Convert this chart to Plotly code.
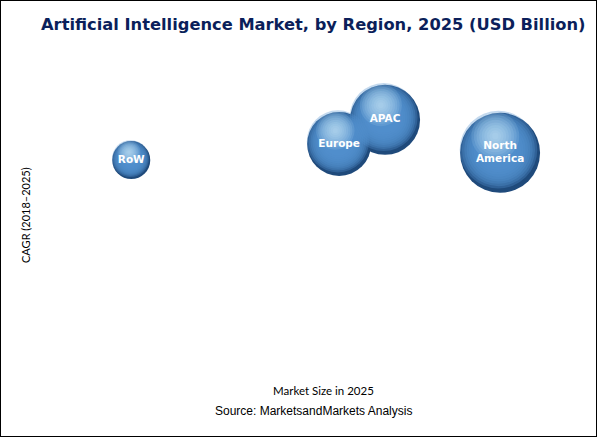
import plotly.graph_objects as go

regions = ["RoW", "Europe", "APAC", "North<br>America"]
market_size = [16.9, 55.4, 63.9, 85.2]      # x position (relative market size)
cagr = [63.6, 68.5, 75.8, 65.8]             # y position (relative CAGR)
bubble = [38, 64, 70, 80]                   # bubble diameter (relative size)

W, H = 597, 437
x0, x1, y0, y1 = 40, 580, 40, 370  # plot area in px
xr, yr = [0, 100], [0, 100]
px_per_x = (x1 - x0) / (xr[1] - xr[0])
px_per_y = (y1 - y0) / (yr[1] - yr[0])


def offset(fx, fy):
    xs = [m + fx * (b / 2) / px_per_x for m, b in zip(market_size, bubble)]
    ys = [c + fy * (b / 2) / px_per_y for c, b in zip(cagr, bubble)]
    return xs, ys


def disc(xs, ys, scale, color, op):
    return go.Scatter(
        x=xs, y=ys, mode="markers",
        marker=dict(size=[b * scale for b in bubble], sizemode="diameter",
                    opacity=op, color=color, line=dict(width=0)),
        hoverinfo="skip", showlegend=False)


def soft(fig, fx, fy, s_max, s_min, n, color, op):
    xs, ys = offset(fx, fy)
    for k in range(n):
        s = s_max - (s_max - s_min) * k / (n - 1)
        fig.add_trace(disc(xs, ys, s, color, op))


fig = go.Figure()

# dark rim
fig.add_trace(disc(market_size, cagr, 1.0, "#1f4a7b", 1))
# body
soft(fig, -0.04, 0.08, 0.97, 0.45, 10, "#5290cc", 0.34)
# highlight
soft(fig, -0.12, 0.42, 0.6, 0.08, 9, "#c6e4fb", 0.13)

# labels
fig.add_trace(go.Scatter(
    x=market_size, y=cagr, mode="text", text=["<b>%s</b>" % r for r in regions],
    textfont=dict(family="DejaVu Sans", size=10.5, color="white"),
    hoverinfo="skip", showlegend=False))

fig.update_layout(
    width=W, height=H, margin=dict(l=0, r=0, t=0, b=0),
    paper_bgcolor="white", plot_bgcolor="white",
    xaxis=dict(domain=[x0 / W, x1 / W], range=xr, visible=False),
    yaxis=dict(domain=[(H - y1) / H, (H - y0) / H], range=yr, visible=False),
    shapes=[dict(type="rect", xref="paper", yref="paper", x0=0, y0=0, x1=1, y1=1,
                 line=dict(color="black", width=2))],
    annotations=[
        dict(text="<b>Artificial Intelligence Market, by Region, 2025 (USD Billion)</b>",
             xref="paper", yref="paper", x=313 / W, y=1 - 24 / H, showarrow=False,
             font=dict(family="DejaVu Sans", size=16.3, color="#0b1f5a"),
             xanchor="center", yanchor="middle"),
        dict(text="CAGR (2018–2025)", xref="paper", yref="paper",
             x=25 / W, y=1 - 215 / H, textangle=-90, showarrow=False,
             font=dict(family="Lato", size=11, color="black"),
             xanchor="center", yanchor="middle"),
        dict(text="Market Size in 2025", xref="paper", yref="paper",
             x=323 / W, y=1 - 390 / H, showarrow=False,
             font=dict(family="Lato", size=11.5, color="black"),
             xanchor="center", yanchor="middle"),
        dict(text="Source: MarketsandMarkets Analysis", xref="paper", yref="paper",
             x=313 / W, y=1 - 411 / H, showarrow=False,
             font=dict(family="Liberation Sans", size=12, color="black"),
             xanchor="center", yanchor="middle"),
    ],
)

fig.write_html("out.html", config={"displayModeBar": False},
               post_script="document.body.style.margin='0px';document.body.style.padding='0px';")
